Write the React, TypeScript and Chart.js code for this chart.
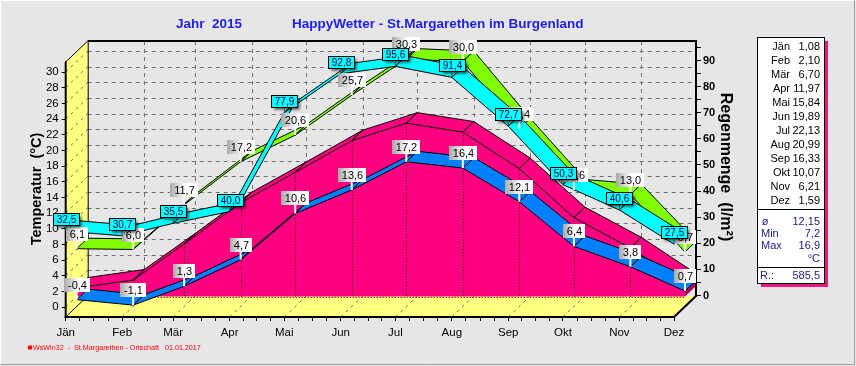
import React, { useEffect, useRef } from 'react';
import { Chart, registerables } from 'chart.js';

Chart.register(...registerables);

const CANVAS_W = 856;
const CANVAS_H = 366;

// ---------- data ----------
const monthLabels = ['Jän', 'Feb', 'Mär', 'Apr', 'Mai', 'Jun', 'Jul', 'Aug', 'Sep', 'Okt', 'Nov', 'Dez'];
const monthStartDays = [0, 31, 59, 90, 120, 151, 181, 212, 243, 273, 304, 334];
const tempMean = [1.08, 2.10, 6.70, 11.97, 15.84, 19.89, 22.13, 20.99, 16.33, 10.07, 6.21, 1.59];
const tempMin = [-0.4, -1.1, 1.3, 4.7, 10.6, 13.6, 17.2, 16.4, 12.1, 6.4, 3.8, 0.7];
const tempMax = [6.1, 6.0, 11.7, 17.2, 20.6, 25.7, 30.3, 30.0, 21.4, 13.6, 13.0, 5.7];
const rainValues = [32.5, 30.7, 35.5, 40.0, 77.9, 92.8, 95.6, 91.4, 72.7, 50.3, 40.6, 27.5];
const rainTicks = [0, 10, 20, 30, 40, 50, 60, 70, 80, 90];
const tempGridValues = [0, 2, 4, 6, 8, 10, 12, 14, 16, 18, 20, 22, 24, 26, 28, 30];
const statLabels = ['ø', 'Min', 'Max', ''];
const statValues = ['12,15', '7,2', '16,9', '°C'];
const rainTotalLabel = 'R.:';
const rainTotalValue = '585,5';
const titleYear = 'Jahr  2015';
const titleMain = 'HappyWetter - St.Margarethen im Burgenland';
const footerText = 'WsWin32  -  St.Margarethen - Ortschaft   01.01.2017';

// ---------- geometry / style ----------
const DEPTH = { x: 22, y: -21 };
const HALF = { x: 11, y: -10.5 };
const FONT = 'Arial, "Liberation Sans", sans-serif';
const BG = '#E6E6E6';

const fmt = (v: number, d = 1) => v.toFixed(d).replace('.', ',');

function quad(ctx: CanvasRenderingContext2D, pts: { x: number; y: number }[], fill: string, stroke = true) {
  ctx.beginPath();
  ctx.moveTo(pts[0].x, pts[0].y);
  for (let i = 1; i < pts.length; i++) ctx.lineTo(pts[i].x, pts[i].y);
  ctx.closePath();
  ctx.fillStyle = fill;
  ctx.fill();
  if (stroke) {
    ctx.strokeStyle = '#000';
    ctx.lineWidth = 1;
    ctx.stroke();
  }
}

function ribbon(ctx: CanvasRenderingContext2D, pts: { x: number; y: number }[], fill: string) {
  for (let i = 0; i < pts.length - 1; i++) {
    const a = pts[i];
    const b = pts[i + 1];
    quad(ctx, [a, b, { x: b.x + HALF.x, y: b.y + HALF.y }, { x: a.x + HALF.x, y: a.y + HALF.y }], fill);
  }
}

function line(ctx: CanvasRenderingContext2D, x1: number, y1: number, x2: number, y2: number) {
  ctx.beginPath();
  ctx.moveTo(x1, y1);
  ctx.lineTo(x2, y2);
  ctx.stroke();
}

function grayLabel(ctx: CanvasRenderingContext2D, x: number, y: number, text: string) {
  ctx.font = `11px ${FONT}`;
  const tw = ctx.measureText(text).width;
  const w = Math.round(tw + 7);
  const h = 14;
  const bx = Math.round(x - w / 2);
  const by = Math.round(y - 8 - h);
  const g = ctx.createLinearGradient(bx, 0, bx + w, 0);
  g.addColorStop(0, '#A8A8A8');
  g.addColorStop(0.55, '#FFFFFF');
  g.addColorStop(1, '#FFFFFF');
  ctx.fillStyle = g;
  ctx.fillRect(bx, by, w, h);
  ctx.strokeStyle = '#FFFFFF';
  ctx.lineWidth = 2;
  line(ctx, x, by + h, x, y);
  ctx.fillStyle = '#000';
  ctx.textAlign = 'center';
  ctx.textBaseline = 'middle';
  ctx.fillText(text, bx + w / 2 + 0.5, by + h / 2 + 0.5);
}

function cyanLabel(ctx: CanvasRenderingContext2D, x: number, y: number, text: string) {
  ctx.font = `10px ${FONT}`;
  const tw = ctx.measureText(text).width;
  const w = Math.round(tw + 7);
  const h = 12;
  const bx = Math.round(x - w / 2) + 0.5;
  const by = Math.round(y - 6 - h) + 0.5;
  ctx.save();
  ctx.shadowColor = 'rgba(0,0,0,0.7)';
  ctx.shadowBlur = 3;
  ctx.shadowOffsetX = 2;
  ctx.shadowOffsetY = 2;
  ctx.fillStyle = '#00FFFF';
  ctx.fillRect(bx, by, w, h);
  ctx.restore();
  ctx.strokeStyle = '#000';
  ctx.lineWidth = 1;
  ctx.strokeRect(bx, by, w, h);
  ctx.strokeStyle = '#305050';
  line(ctx, x, by + h, x, y);
  ctx.fillStyle = '#000040';
  ctx.textAlign = 'center';
  ctx.textBaseline = 'middle';
  ctx.fillText(text, bx + w / 2, by + h / 2 + 0.5);
}

const wswinPlugin = {
  id: 'wswin3d',
  beforeDraw(chart: any) {
    const ctx: CanvasRenderingContext2D = chart.ctx;
    ctx.save();
    ctx.fillStyle = BG;
    ctx.fillRect(0, 0, CANVAS_W, CANVAS_H);
    ctx.lineWidth = 1;
    ctx.strokeStyle = '#FFFFFF';
    line(ctx, 0, 0.5, CANVAS_W, 0.5);
    line(ctx, 0.5, 0, 0.5, CANVAS_H);
    ctx.strokeStyle = '#A0A0A0';
    line(ctx, 0, 364.5, CANVAS_W - 1, 364.5);
    line(ctx, 854.5, 0, 854.5, 365);
    ctx.restore();
  },
  beforeDatasetsDraw(chart: any) {
    const ctx: CanvasRenderingContext2D = chart.ctx;
    const { left: L, right: R, top: T, bottom: B } = chart.chartArea;
    const xs = chart.scales.x;
    const yT = chart.scales.y;
    ctx.save();
    // back wall grid
    ctx.setLineDash([4, 4]);
    ctx.strokeStyle = '#707070';
    ctx.lineWidth = 1;
    tempGridValues.forEach((v) => {
      const y = Math.round(yT.getPixelForValue(v) + DEPTH.y) + 0.5;
      line(ctx, L + DEPTH.x, y, R + DEPTH.x, y);
    });
    for (let i = 1; i < monthStartDays.length - 1; i++) {
      const x = Math.round(xs.getPixelForValue(monthStartDays[i]) + DEPTH.x) + 0.5;
      line(ctx, x, T + DEPTH.y, x, B + DEPTH.y);
    }
    ctx.setLineDash([]);
    // left wall
    quad(ctx, [{ x: L, y: T }, { x: L + DEPTH.x, y: T + DEPTH.y }, { x: L + DEPTH.x, y: B + DEPTH.y }, { x: L, y: B }], '#FFFF80', false);
    // floor
    quad(ctx, [{ x: L, y: B }, { x: L + DEPTH.x, y: B + DEPTH.y }, { x: R + DEPTH.x, y: B + DEPTH.y }, { x: R, y: B }], '#FFFF80', false);
    ctx.setLineDash([3, 4]);
    ctx.strokeStyle = '#707070';
    tempGridValues.forEach((v) => {
      const y = yT.getPixelForValue(v);
      line(ctx, L, y, L + DEPTH.x, y + DEPTH.y);
    });
    for (let i = 1; i < monthStartDays.length - 1; i++) {
      const x = xs.getPixelForValue(monthStartDays[i]);
      line(ctx, x, B, x + DEPTH.x, B + DEPTH.y);
    }
    ctx.setLineDash([]);
    // edges
    ctx.strokeStyle = '#000';
    ctx.lineWidth = 1;
    line(ctx, L + DEPTH.x + 0.5, T + DEPTH.y, L + DEPTH.x + 0.5, B + DEPTH.y);
    line(ctx, L, T, L + DEPTH.x, T + DEPTH.y);
    line(ctx, L, B, L + DEPTH.x, B + DEPTH.y);
    ctx.lineWidth = 2;
    line(ctx, L + DEPTH.x, T + DEPTH.y, R + DEPTH.x, T + DEPTH.y);
    ctx.restore();
  },
  afterDatasetsDraw(chart: any) {
    const ctx: CanvasRenderingContext2D = chart.ctx;
    const { left: L, right: R, top: T, bottom: B } = chart.chartArea;
    const yT = chart.scales.y;
    const yR = chart.scales.y2;
    const pts = (k: number, off: { x: number; y: number }) =>
      chart.getDatasetMeta(k).data.map((p: any) => ({ x: p.x + off.x, y: p.y + off.y }));
    ctx.save();

    // mean temperature: 3D area
    const mean = pts(3, HALF);
    const zeroY = yT.getPixelForValue(0) + HALF.y;
    ctx.beginPath();
    ctx.moveTo(mean[0].x, zeroY);
    mean.forEach((p: any) => ctx.lineTo(p.x, p.y));
    ctx.lineTo(mean[mean.length - 1].x, zeroY);
    ctx.closePath();
    ctx.fillStyle = '#FF0080';
    ctx.fill();
    const last = mean[mean.length - 1];
    quad(ctx, [last, { x: last.x + HALF.x, y: last.y + HALF.y }, { x: last.x + HALF.x, y: zeroY + HALF.y }, { x: last.x, y: zeroY }], '#B0005A', false);
    ribbon(ctx, mean, '#FF0080');
    ctx.strokeStyle = '#000';
    ctx.lineWidth = 1;
    ctx.setLineDash([1, 2]);
    line(ctx, mean[0].x, Math.round(zeroY) + 0.5, last.x, Math.round(zeroY) + 0.5);
    for (let i = 1; i < mean.length - 1; i++) {
      const x = Math.round(mean[i].x) + 0.5;
      line(ctx, x, mean[i].y, x, zeroY);
    }
    ctx.setLineDash([]);

    // min, max, rain ribbons
    const minP = pts(2, HALF);
    const maxP = pts(1, HALF);
    const rainP = pts(0, { x: 0, y: 0 });
    ribbon(ctx, minP, '#0080FF');
    ribbon(ctx, maxP, '#80FF00');
    ribbon(ctx, rainP, '#00FFFF');

    // front edges
    ctx.strokeStyle = '#000';
    ctx.lineWidth = 2;
    line(ctx, L, T, L, B + 1);
    line(ctx, L - 1, B, R, B);
    line(ctx, R, B, R + DEPTH.x, B + DEPTH.y);

    // right axis (back plane)
    const rx = R + DEPTH.x;
    line(ctx, rx, T + DEPTH.y - 1, rx, B + DEPTH.y + 1);
    ctx.lineWidth = 1;
    for (let v = 0; v <= 95; v += 5) {
      const y = Math.round(yR.getPixelForValue(v) + DEPTH.y) + 0.5;
      line(ctx, rx + 1, y, rx + 5, y);
    }
    ctx.fillStyle = '#000';
    ctx.font = `bold 11px ${FONT}`;
    ctx.textAlign = 'left';
    ctx.textBaseline = 'middle';
    rainTicks.forEach((v) => {
      ctx.fillText(String(v), rx + 7, yR.getPixelForValue(v) + DEPTH.y + 0.5);
    });

    // labels
    minP.forEach((p: any, i: number) => grayLabel(ctx, p.x, p.y, fmt(tempMin[i])));
    maxP.forEach((p: any, i: number) => grayLabel(ctx, p.x, p.y, fmt(tempMax[i])));
    rainP.forEach((p: any, i: number) => cyanLabel(ctx, p.x, p.y, fmt(rainValues[i])));

    // axis titles
    ctx.fillStyle = '#000';
    ctx.font = `bold 14.5px ${FONT}`;
    ctx.textAlign = 'center';
    ctx.textBaseline = 'middle';
    ctx.save();
    ctx.translate(37, 189);
    ctx.rotate(-Math.PI / 2);
    ctx.fillText('Temperatur  (°C)', 0, 0);
    ctx.restore();
    ctx.save();
    ctx.font = `bold 16px ${FONT}`;
    ctx.translate(725, 167);
    ctx.rotate(Math.PI / 2);
    ctx.fillText('Regenmenge  (l/m²)', 0, 0);
    ctx.restore();

    // title
    ctx.fillStyle = '#2020F0';
    ctx.font = `bold 13.5px ${FONT}`;
    ctx.textAlign = 'left';
    ctx.fillText(titleYear, 176, 24);
    ctx.fillText(titleMain, 292, 24);

    // stats box
    const bx = 757, by = 37, bw = 67, bh = 246;
    ctx.fillStyle = '#E8187E';
    ctx.fillRect(bx + bw, by + 4, 4, bh);
    ctx.fillRect(bx + 4, by + bh, bw, 4);
    ctx.fillStyle = '#FFFFFF';
    ctx.fillRect(bx, by, bw, bh);
    ctx.strokeStyle = '#000';
    ctx.lineWidth = 1;
    ctx.strokeRect(bx + 0.5, by + 0.5, bw, bh);
    line(ctx, bx, 209.5, bx + bw, 209.5);
    line(ctx, bx, 267.5, bx + bw, 267.5);
    ctx.font = `11px ${FONT}`;
    ctx.fillStyle = '#000';
    monthLabels.forEach((m, i) => {
      const y = 46.5 + i * 14;
      ctx.textAlign = 'right';
      ctx.fillText(m, 790, y);
      ctx.fillText(fmt(tempMean[i], 2), 820, y);
    });
    ctx.fillStyle = '#202090';
    statLabels.forEach((s, i) => {
      const y = 222 + i * 12.2;
      ctx.textAlign = i === 0 ? 'center' : 'left';
      ctx.fillText(s, i === 0 ? 765 : 761, y);
      ctx.textAlign = 'right';
      ctx.fillText(statValues[i], 820, y);
    });
    ctx.textAlign = 'left';
    ctx.fillText(rainTotalLabel, 760, 276);
    ctx.textAlign = 'right';
    ctx.fillText(rainTotalValue, 820, 276);

    // footer
    ctx.fillStyle = '#FF0000';
    ctx.beginPath();
    ctx.arc(30, 347.5, 2.3, 0, Math.PI * 2);
    ctx.fill();
    ctx.font = `7px ${FONT}`;
    const fw = ctx.measureText(footerText).width;
    const size = 7 * 168 / fw;
    ctx.font = `${size.toFixed(2)}px ${FONT}`;
    ctx.textAlign = 'left';
    ctx.textBaseline = 'middle';
    ctx.fillText(footerText, 33, 348);
    ctx.restore();
  },
};

// x ticks: month starts plus quarter-month subdivisions
const xTickValues: number[] = [];
for (let i = 0; i < monthStartDays.length; i++) {
  xTickValues.push(monthStartDays[i]);
  if (i < monthStartDays.length - 1) {
    const len = monthStartDays[i + 1] - monthStartDays[i];
    for (let k = 1; k < 4; k++) xTickValues.push(monthStartDays[i] + (len * k) / 4);
  }
}

// scale ranges so the plot matches the reference frame
const T_PX = 235 / 30; // px per °C
const R_PX = 235 / 90; // px per l/m²
const yTempMin = -10 / T_PX;
const yTempMax = 30 + 10 / T_PX;
const yRainMin = -1 / R_PX;
const yRainMax = 254 / R_PX;

export default function App() {
  const ref = useRef<HTMLCanvasElement | null>(null);
  useEffect(() => {
    if (!ref.current) return;
    const mk = (vals: number[]) => vals.map((v, i) => ({ x: monthStartDays[i], y: v }));
    const hidden = { showLine: false, pointRadius: 0, pointHoverRadius: 0, borderWidth: 0 };
    const chart = new Chart(ref.current, {
      type: 'line',
      data: {
        datasets: [
          { label: 'Regenmenge', data: mk(rainValues), yAxisID: 'y2', ...hidden },
          { label: 'Max', data: mk(tempMax), yAxisID: 'y', ...hidden },
          { label: 'Min', data: mk(tempMin), yAxisID: 'y', ...hidden },
          { label: 'Mittel', data: mk(tempMean), yAxisID: 'y', ...hidden },
        ],
      },
      options: {
        responsive: false,
        animation: false,
        devicePixelRatio: 1,
        layout: { padding: { left: 0, right: 182, top: 62, bottom: 0 } },
        plugins: { legend: { display: false }, tooltip: { enabled: false }, title: { display: false } },
        events: [],
        scales: {
          x: {
            type: 'linear',
            min: 0,
            max: 334,
            afterFit: (s: any) => { s.height = 49; },
            afterBuildTicks: (s: any) => { s.ticks = xTickValues.map((v) => ({ value: v })); },
            ticks: {
              autoSkip: false,
              maxRotation: 0,
              padding: 5,
              color: '#000',
              font: { family: FONT, size: 11.5 },
              callback: (v: any) => {
                const i = monthStartDays.indexOf(Number(v));
                return i >= 0 ? monthLabels[i] : '';
              },
            },
            grid: { drawOnChartArea: false, drawTicks: true, tickLength: 4, tickColor: '#000', tickWidth: 1 },
            border: { display: true, color: '#000', width: 2 },
          },
          y: {
            type: 'linear',
            position: 'left',
            min: yTempMin,
            max: yTempMax,
            afterFit: (s: any) => { s.width = 65.7; },
            ticks: { stepSize: 2, includeBounds: false, padding: 3, color: '#000', font: { family: FONT, size: 11.5 } },
            grid: { drawOnChartArea: false, drawTicks: true, tickLength: 4, tickColor: '#000' },
            border: { display: true, color: '#000', width: 2 },
          },
          y2: {
            type: 'linear',
            position: 'right',
            display: false,
            min: yRainMin,
            max: yRainMax,
          },
        },
      },
      plugins: [wswinPlugin],
    } as any);
    return () => chart.destroy();
  }, []);
  return (
    <div style={{ position: 'fixed', left: 0, top: 0, width: CANVAS_W, height: CANVAS_H }}>
      <canvas ref={ref} width={CANVAS_W} height={CANVAS_H} style={{ display: 'block' }} />
    </div>
  );
}
